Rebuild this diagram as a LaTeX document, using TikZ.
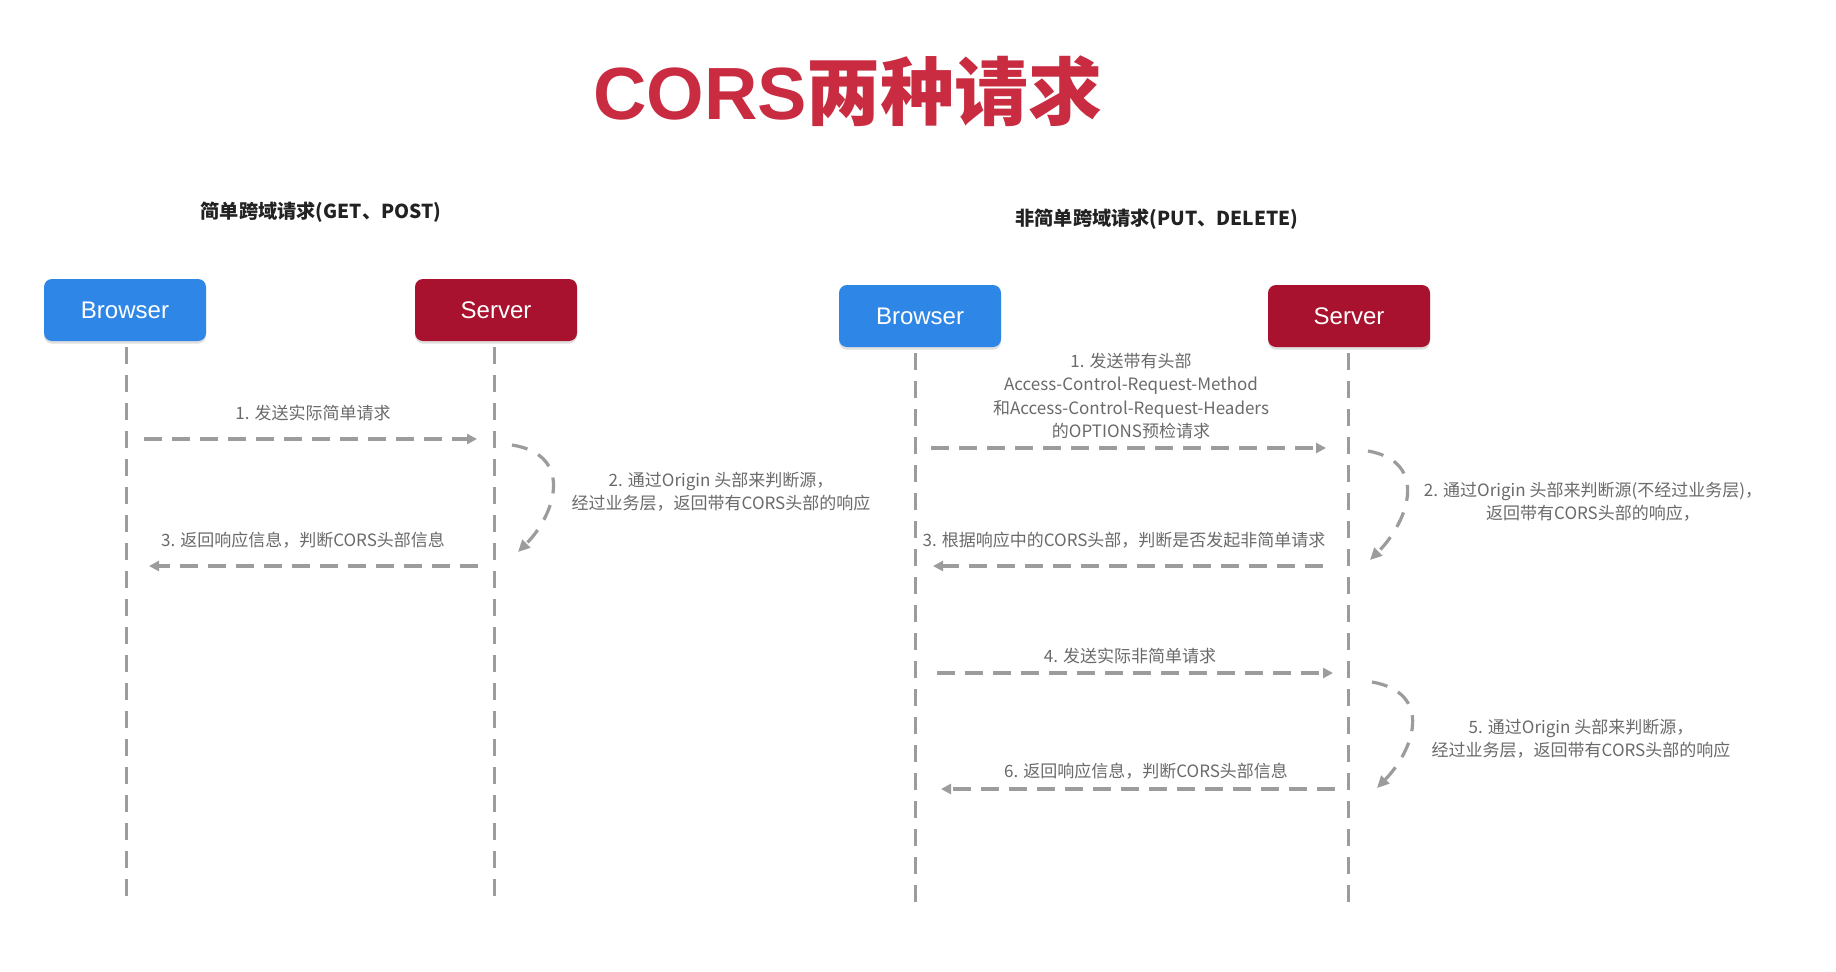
\documentclass[tikz,border=0pt]{standalone}
\usepackage{fontspec}
\setmainfont{Noto Sans CJK SC}
\newfontfamily\arialf{Liberation Sans}
\usetikzlibrary{arrows.meta,shadows}
\definecolor{titlered}{HTML}{C92B40}
\definecolor{bblue}{HTML}{2E86E6}
\definecolor{sred}{HTML}{A8122E}
\definecolor{lgray}{HTML}{9C9C9C}
\definecolor{tgray}{HTML}{6A6A6A}
\definecolor{subblack}{HTML}{222222}
\begin{document}
\begin{tikzpicture}[x=0.5pt,y=-0.5pt,
  actor/.style={rounded corners=4pt, minimum width=81pt, minimum height=31pt,
    inner sep=0pt, text=white, font=\arialf\fontsize{12}{14}\selectfont,
    drop shadow={shadow xshift=0pt, shadow yshift=-1.3pt, opacity=0.25}},
  lifeline/.style={draw=lgray, line width=1.5pt, dash pattern=on 8.5pt off 5.5pt},
  msg/.style={draw=lgray, line width=1.8pt, dash pattern=on 9pt off 5pt,
    -{Triangle[length=5pt,width=5pt]}},
  curv/.style={draw=lgray, line width=1.6pt, dash pattern=on 8pt off 6pt,
    -{Triangle[length=6pt,width=5.5pt]}},
  lbl/.style={text=tgray, font=\fontsize{8.5}{11.6}\selectfont, align=center, inner sep=0pt},
  subt/.style={text=subblack, font=\bfseries\fontsize{9.6}{12}\selectfont, inner sep=0pt}
]
\fill[white] (0,0) rectangle (1836,971);
\useasboundingbox (0,0) rectangle (1836,971);

% title
\node[text=titlered, font=\bfseries\fontsize{37}{44}\selectfont, inner sep=0pt] (title) at (848,91)
  {{\arialf\bfseries CORS}两种请求};

% subtitles
\node[subt] (st1) at (321,212) {简单跨域请求(GET、POST)};
\node[subt] (st2) at (1157,219) {非简单跨域请求(PUT、DELETE)};

% actors
\node[actor, fill=bblue] (bl) at (125,310) {Browser};
\node[actor, fill=sred] (sl) at (496,310) {Server};
\node[actor, fill=bblue] (br) at (920,316) {Browser};
\node[actor, fill=sred] (sr) at (1349,316) {Server};

% lifeline ends
\coordinate (ble) at (126,899);
\coordinate (sle) at (494,899);
\coordinate (bre) at (915,904);
\coordinate (sre) at (1348,904);
\draw[lifeline] (bl.south -| ble) ++(0,6) -- (ble);
\draw[lifeline] (sl.south -| sle) ++(0,6) -- (sle);
\draw[lifeline] (br.south -| bre) ++(0,6) -- (bre);
\draw[lifeline] (sr.south -| sre) ++(0,6) -- (sre);

% ---- left diagram ----
\coordinate (la1s) at (144,439); \coordinate (la1e) at (477,439);
\coordinate (lc2s) at (512,445); \coordinate (lc2e) at (518,552);
\coordinate (la3s) at (478,566); \coordinate (la3e) at (149,566);
\draw[msg] (la1s) -- (la1e);
\draw[curv] (lc2s) .. controls (575,455) and (555,515) .. (lc2e);
\draw[msg] (la3s) -- (la3e);
\node[lbl] (ll1) at (313,413) {1. 发送实际简单请求};
\node[lbl] (ll2) at (721,492) {2. 通过Origin 头部来判断源，\\经过业务层，返回带有CORS头部的响应};
\node[lbl] (ll3) at (303,540) {3. 返回响应信息，判断CORS头部信息};

% ---- right diagram ----
\coordinate (ra1s) at (931,448); \coordinate (ra1e) at (1326,448);
\coordinate (rc2s) at (1368,451); \coordinate (rc2e) at (1370,560);
\coordinate (ra3s) at (1323,566); \coordinate (ra3e) at (933,566);
\coordinate (ra4s) at (937,673); \coordinate (ra4e) at (1333,673);
\coordinate (rc5s) at (1372,682); \coordinate (rc5e) at (1377,788);
\coordinate (ra6s) at (1335,789); \coordinate (ra6e) at (941,789);
\draw[msg] (ra1s) -- (ra1e);
\draw[curv] (rc2s) .. controls (1430,462) and (1408,522) .. (rc2e);
\draw[msg] (ra3s) -- (ra3e);
\draw[msg] (ra4s) -- (ra4e);
\draw[curv] (rc5s) .. controls (1434,693) and (1414,750) .. (rc5e);
\draw[msg] (ra6s) -- (ra6e);
\node[lbl] (rl1) at (1131,396) {1. 发送带有头部\\Access-Control-Request-Method\\和Access-Control-Request-Headers\\的OPTIONS预检请求};
\node[lbl] (rl2) at (1593,502) {2. 通过Origin 头部来判断源(不经过业务层)，\\返回带有CORS头部的响应，};
\node[lbl] (rl3) at (1124,540) {3. 根据响应中的CORS头部，判断是否发起非简单请求};
\node[lbl] (rl4) at (1130,656) {4. 发送实际非简单请求};
\node[lbl] (rl5) at (1581,739) {5. 通过Origin 头部来判断源，\\经过业务层，返回带有CORS头部的响应};
\node[lbl] (rl6) at (1146,771) {6. 返回响应信息，判断CORS头部信息};
\end{tikzpicture}
\end{document}
